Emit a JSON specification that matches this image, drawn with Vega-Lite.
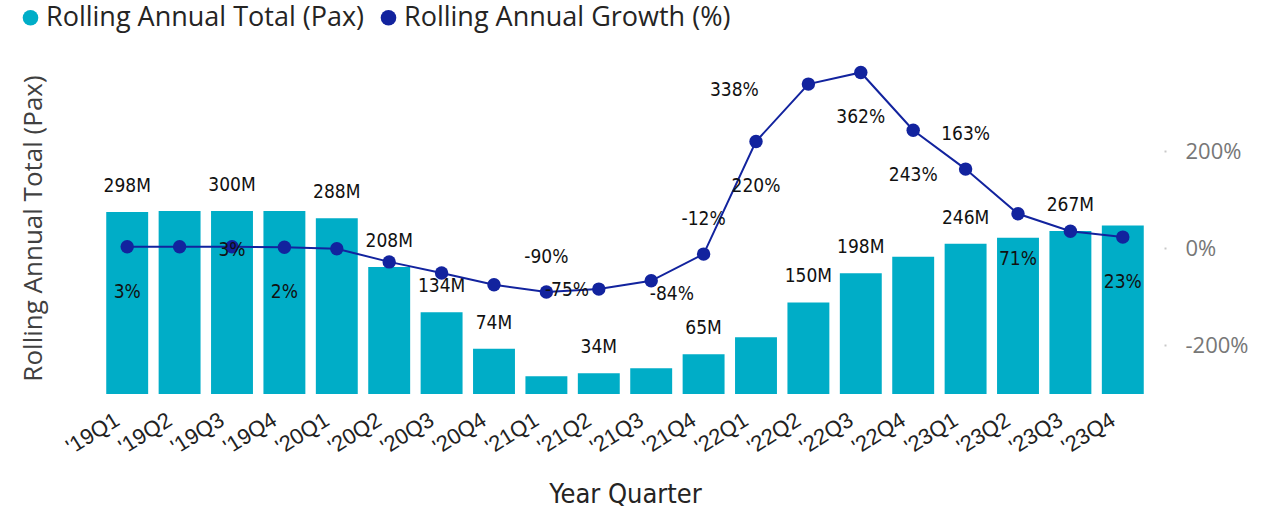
{
  "$schema": "https://vega.github.io/schema/vega-lite/v6.json",
  "width": 1048,
  "height": 340,
  "autosize": {"type": "none"},
  "padding": {"left": 101, "top": 54, "right": 114, "bottom": 116},
  "background": "white",
  "config": {"view": {"stroke": null}, "axis": {"grid": false}},
  "data": {
    "values": [
      {"q": "'19Q1", "pax": 298, "growth": 3},
      {"q": "'19Q2", "pax": 300, "growth": 3},
      {"q": "'19Q3", "pax": 300, "growth": 3},
      {"q": "'19Q4", "pax": 300, "growth": 2},
      {"q": "'20Q1", "pax": 288, "growth": -1},
      {"q": "'20Q2", "pax": 208, "growth": -28},
      {"q": "'20Q3", "pax": 134, "growth": -51},
      {"q": "'20Q4", "pax": 74, "growth": -75},
      {"q": "'21Q1", "pax": 29, "growth": -90},
      {"q": "'21Q2", "pax": 34, "growth": -84},
      {"q": "'21Q3", "pax": 42, "growth": -67},
      {"q": "'21Q4", "pax": 65, "growth": -12},
      {"q": "'22Q1", "pax": 93, "growth": 220},
      {"q": "'22Q2", "pax": 150, "growth": 338},
      {"q": "'22Q3", "pax": 198, "growth": 362},
      {"q": "'22Q4", "pax": 225, "growth": 243},
      {"q": "'23Q1", "pax": 246, "growth": 163},
      {"q": "'23Q2", "pax": 256, "growth": 71},
      {"q": "'23Q3", "pax": 267, "growth": 35},
      {"q": "'23Q4", "pax": 276, "growth": 23}
    ]
  },
  "encoding": {
    "x": {
      "field": "q", "type": "nominal", "sort": null,
      "scale": {"paddingInner": 0.2, "paddingOuter": 0.1},
      "axis": {
        "title": "Year Quarter", "titleFont": "DejaVu Sans Condensed", "titleFontSize": 27, "titleFontWeight": "normal",
        "titleColor": "#252423", "titleY": 108, "titleBaseline": "alphabetic",
        "labelAngle": -32, "labelFont": "Liberation Sans", "labelFontSize": 22, "labelColor": "#222222",
        "labelOffset": -15, "labelPadding": 15, "ticks": false, "domain": false
      }
    }
  },
  "layer": [
    {
      "layer": [
        {
          "mark": {"type": "bar"},
          "encoding": {
            "y": {
              "field": "pax", "type": "quantitative", "scale": {"domain": [0, 557], "nice": false},
              "axis": {
                "orient": "left", "labels": false, "ticks": false, "domain": false,
                "title": "Rolling Annual Total (Pax)", "titleFont": "Open Sans", "titleFontSize": 26,
                "titleFontWeight": "normal", "titleColor": "#404040", "titleX": -68, "titleY": 174,
                "titleAngle": -90, "titleBaseline": "middle", "titleAlign": "center"
              }
            },
            "color": {
              "datum": "Rolling Annual Total (Pax)", "type": "nominal",
              "scale": {"domain": ["Rolling Annual Total (Pax)", "Rolling Annual Growth (%)"], "range": ["#00ADC7", "#12239E"]},
              "legend": {
                "title": null, "orient": "none", "legendX": -84, "legendY": -50, "direction": "horizontal",
                "labelFont": "Open Sans", "labelFontSize": 27, "labelColor": "#252423", "labelLimit": 600,
                "symbolType": "circle", "symbolSize": 243, "symbolStrokeWidth": 0, "labelOffset": 2, "columnPadding": 10,
                "encode": {"symbols": {"update": {"fill": {"scale": "color", "field": "value"}, "stroke": {"value": "transparent"}, "shape": {"value": "circle"}, "opacity": {"value": 1}}}}
              }
            }
          }
        },
        {
          "transform": [{"filter": {"field": "q", "oneOf": ["'19Q1", "'19Q3", "'20Q1", "'20Q2", "'20Q3", "'20Q4", "'21Q2", "'21Q4", "'22Q2", "'22Q3", "'23Q1", "'23Q3"]}}],
          "mark": {"type": "text", "font": "DejaVu Sans Condensed", "fontSize": 19, "color": "#111111", "baseline": "alphabetic", "dy": -20, "text": {"expr": "datum.pax + 'M'"}},
          "encoding": {
            "y": {"field": "pax", "type": "quantitative"}
          }
        }
      ]
    },
    {
      "encoding": {
        "y": {
          "field": "growth", "type": "quantitative", "scale": {"domain": [-300, 400], "nice": false},
          "axis": {
            "orient": "right", "offset": 15, "values": [-200, 0, 200], "labelExpr": "datum.value + '%'",
            "labelFont": "Open Sans", "labelFontSize": 22, "labelColor": "#777777",
            "tickSize": 2, "tickWidth": 2, "tickColor": "#c8c8c8", "labelPadding": 19, "domain": false, "title": null
          }
        }
      },
      "layer": [
        {
          "mark": {"type": "line", "strokeWidth": 2, "point": {"filled": true, "size": 180}},
          "encoding": {"color": {"datum": "Rolling Annual Growth (%)", "type": "nominal"}}
        },
        {
          "transform": [{"filter": {"field": "q", "oneOf": ["'19Q1", "'19Q4", "'22Q1", "'22Q3", "'22Q4", "'23Q2", "'23Q4"]}}],
          "mark": {"type": "text", "font": "DejaVu Sans Condensed", "fontSize": 19, "color": "#111111", "baseline": "alphabetic", "dy": 51, "text": {"expr": "datum.growth + '%'"}},
          "encoding": {}
        },
        {
          "transform": [{"filter": {"field": "q", "oneOf": ["'21Q1", "'21Q4", "'23Q1"]}}],
          "mark": {"type": "text", "font": "DejaVu Sans Condensed", "fontSize": 19, "color": "#111111", "baseline": "alphabetic", "dy": -29, "text": {"expr": "datum.growth + '%'"}},
          "encoding": {}
        },
        {
          "transform": [{"filter": {"field": "q", "oneOf": ["'19Q3"]}}],
          "mark": {"type": "text", "font": "DejaVu Sans Condensed", "fontSize": 19, "color": "#111111", "baseline": "alphabetic", "dy": 9, "text": {"expr": "datum.growth + '%'"}},
          "encoding": {}
        },
        {
          "transform": [{"filter": {"field": "q", "oneOf": ["'20Q4", "'21Q2"]}}],
          "mark": {"type": "text", "font": "DejaVu Sans Condensed", "fontSize": 19, "color": "#111111", "baseline": "alphabetic", "dx": 73, "dy": 11, "text": {"expr": "datum.growth + '%'"}},
          "encoding": {}
        },
        {
          "transform": [{"filter": {"field": "q", "oneOf": ["'22Q2"]}}],
          "mark": {"type": "text", "font": "DejaVu Sans Condensed", "fontSize": 19, "color": "#111111", "baseline": "alphabetic", "dx": -74, "dy": 12, "text": {"expr": "datum.growth + '%'"}},
          "encoding": {}
        }
      ]
    }
  ],
  "resolve": {"scale": {"y": "independent"}}
}
